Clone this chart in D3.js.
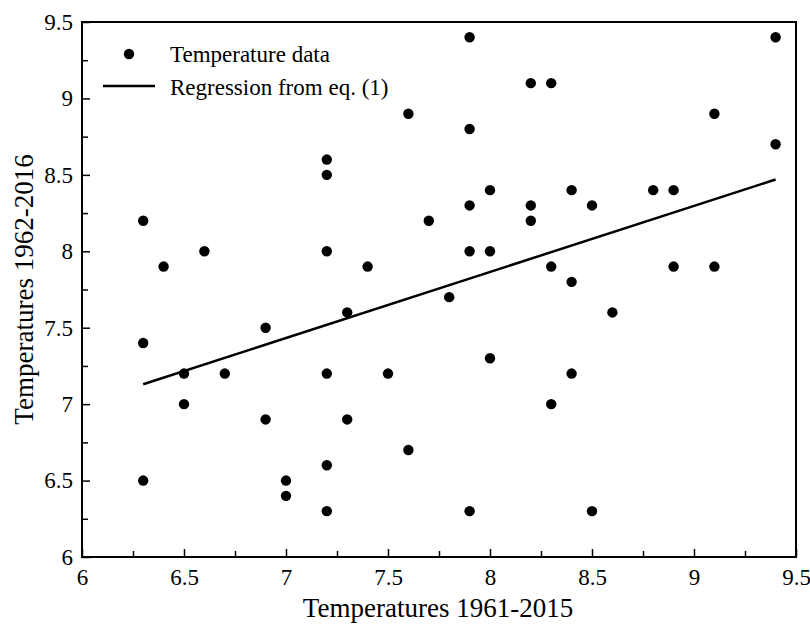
<!DOCTYPE html>
<html>
<head>
<meta charset="utf-8">
<script src="https://cdn.jsdelivr.net/npm/d3@7"></script>
<style>
  body { margin: 0; background: #fff; }
  svg text { font-family: 'Liberation Serif', 'Times New Roman', serif; fill: #000; }
</style>
</head>
<body>
<svg width="810" height="625"></svg>
<script>
const svg = d3.select('svg');

// temperature pairs
const xVals = [6.3, 6.3, 6.3, 6.4, 6.5, 6.5, 6.6, 6.7, 6.9, 6.9, 7.0, 7.0,
  7.2, 7.2, 7.2, 7.2, 7.2, 7.2, 7.3, 7.3, 7.4, 7.5, 7.6, 7.6, 7.7, 7.8,
  7.9, 7.9, 7.9, 7.9, 7.9, 8.0, 8.0, 8.0, 8.2, 8.2, 8.2, 8.3, 8.3, 8.3,
  8.4, 8.4, 8.4, 8.5, 8.5, 8.6, 8.8, 8.9, 8.9, 9.1, 9.1, 9.4, 9.4];
const yVals = [8.2, 7.4, 6.5, 7.9, 7.2, 7.0, 8.0, 7.2, 7.5, 6.9, 6.5, 6.4,
  8.6, 8.5, 8.0, 7.2, 6.6, 6.3, 7.6, 6.9, 7.9, 7.2, 8.9, 6.7, 8.2, 7.7,
  9.4, 8.8, 8.3, 8.0, 6.3, 8.4, 8.0, 7.3, 9.1, 8.3, 8.2, 9.1, 7.9, 7.0,
  8.4, 7.8, 7.2, 8.3, 6.3, 7.6, 8.4, 8.4, 7.9, 8.9, 7.9, 9.4, 8.7];

// regression line endpoints (eq. 1)
const regX = [6.3, 9.4];
const regY = [7.13, 8.47];

const majorTicks = [6, 6.5, 7, 7.5, 8, 8.5, 9, 9.5];
const minorTicks = [6.25, 6.75, 7.25, 7.75, 8.25, 8.75, 9.25];

const pLeft = 82, pRight = 796, pTop = 22, pBottom = 557;
const serif = "'Liberation Serif', 'Times New Roman', serif";

const x = d3.scaleLinear().domain([6, 9.5]).range([pLeft, pRight]);
const y = d3.scaleLinear().domain([6, 9.5]).range([pBottom, pTop]);

// frame
svg.append('rect')
    .attr('x', pLeft).attr('y', pTop)
    .attr('width', pRight - pLeft).attr('height', pBottom - pTop)
    .attr('fill', 'none').attr('stroke', '#000').attr('stroke-width', 2);

// bottom axis, ticks pointing in
const xAxis = svg.append('g').attr('transform', `translate(0,${pBottom})`)
    .call(d3.axisBottom(x).tickValues(majorTicks).tickFormat(d3.format('')).tickSizeInner(-8).tickSizeOuter(0));
svg.append('g').attr('transform', `translate(0,${pBottom})`)
    .call(d3.axisBottom(x).tickValues(minorTicks).tickFormat('').tickSizeInner(-6).tickSizeOuter(0));

const yAxis = svg.append('g').attr('transform', `translate(${pLeft},0)`)
    .call(d3.axisLeft(y).tickValues(majorTicks).tickFormat(d3.format('')).tickSizeInner(-8).tickSizeOuter(0));
svg.append('g').attr('transform', `translate(${pLeft},0)`)
    .call(d3.axisLeft(y).tickValues(minorTicks).tickFormat('').tickSizeInner(-6).tickSizeOuter(0));

svg.selectAll('.domain').remove();
svg.selectAll('g').attr('font-family', serif);
svg.selectAll('.tick line').attr('stroke', '#000').attr('stroke-width', 1.5);
xAxis.selectAll('.tick text').attr('font-size', 23).attr('dy', '1.05em').attr('y', 4);
yAxis.selectAll('.tick text').attr('font-size', 23).attr('x', -9);

// axis titles
svg.append('text')
    .attr('x', (pLeft + pRight) / 2 - 1).attr('y', 617)
    .attr('text-anchor', 'middle').attr('font-size', 27).attr('font-family', serif)
    .text('Temperatures 1961-2015');
svg.append('text')
    .attr('transform', `translate(33,${(pTop + pBottom) / 2}) rotate(-90)`)
    .attr('text-anchor', 'middle').attr('font-size', 27).attr('font-family', serif)
    .text('Temperatures 1962-2016');

// regression
svg.append('line')
    .attr('x1', x(regX[0])).attr('y1', y(regY[0]))
    .attr('x2', x(regX[1])).attr('y2', y(regY[1]))
    .attr('stroke', '#000').attr('stroke-width', 2.5);

// points
svg.selectAll('circle.pt')
    .data(xVals.map((v, i) => [v, yVals[i]]))
    .enter()
    .append('circle')
        .attr('class', 'pt')
        .attr('cx', d => x(d[0]))
        .attr('cy', d => y(d[1]))
        .attr('r', 5.2)
        .attr('fill', '#000');

// legend
const legend = svg.append('g').attr('font-family', serif);
legend.append('circle').attr('cx', 129).attr('cy', 54).attr('r', 5.2).attr('fill', '#000');
legend.append('text').attr('x', 170).attr('y', 62).attr('font-size', 23).text('Temperature data');
legend.append('line').attr('x1', 103).attr('x2', 155).attr('y1', 86).attr('y2', 86)
    .attr('stroke', '#000').attr('stroke-width', 2.5);
legend.append('text').attr('x', 170).attr('y', 95).attr('font-size', 23).text('Regression from eq. (1)');
</script>
</body>
</html>
